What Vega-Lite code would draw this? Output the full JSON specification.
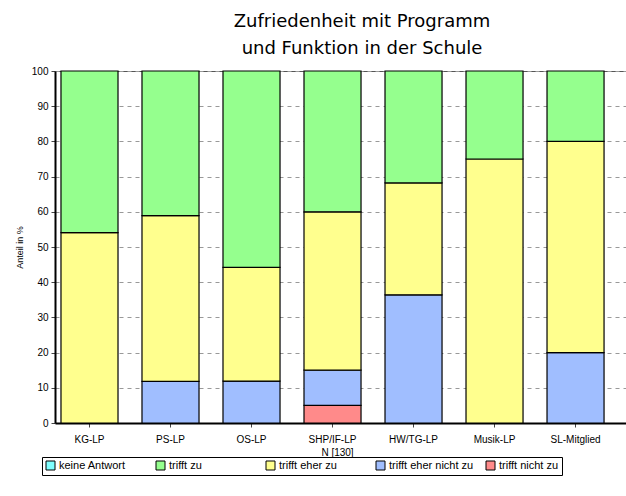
{
  "$schema": "https://vega.github.io/schema/vega-lite/v6.json",
  "width": 580,
  "height": 352,
  "autosize": {"type": "none"},
  "padding": {"left": 55, "top": 71, "right": 0, "bottom": 73},
  "background": "white",
  "title": {
    "text": ["Zufriedenheit mit Programm", "und Funktion in der Schule"],
    "font": "DejaVu Sans",
    "fontSize": 18,
    "fontWeight": "normal",
    "lineHeight": 27,
    "offset": 8,
    "dx": 17,
    "anchor": "middle",
    "color": "black"
  },
  "data": {
    "values": [
      {"gruppe": "KG-LP", "antwort": "trifft eher zu", "o": 3, "wert": 54.1},
      {"gruppe": "KG-LP", "antwort": "trifft zu", "o": 4, "wert": 45.9},
      {"gruppe": "PS-LP", "antwort": "trifft eher nicht zu", "o": 2, "wert": 11.8},
      {"gruppe": "PS-LP", "antwort": "trifft eher zu", "o": 3, "wert": 47.1},
      {"gruppe": "PS-LP", "antwort": "trifft zu", "o": 4, "wert": 41.1},
      {"gruppe": "OS-LP", "antwort": "trifft eher nicht zu", "o": 2, "wert": 11.9},
      {"gruppe": "OS-LP", "antwort": "trifft eher zu", "o": 3, "wert": 32.3},
      {"gruppe": "OS-LP", "antwort": "trifft zu", "o": 4, "wert": 55.8},
      {"gruppe": "SHP/IF-LP", "antwort": "trifft nicht zu", "o": 1, "wert": 5},
      {"gruppe": "SHP/IF-LP", "antwort": "trifft eher nicht zu", "o": 2, "wert": 10},
      {"gruppe": "SHP/IF-LP", "antwort": "trifft eher zu", "o": 3, "wert": 45},
      {"gruppe": "SHP/IF-LP", "antwort": "trifft zu", "o": 4, "wert": 40},
      {"gruppe": "HW/TG-LP", "antwort": "trifft eher nicht zu", "o": 2, "wert": 36.4},
      {"gruppe": "HW/TG-LP", "antwort": "trifft eher zu", "o": 3, "wert": 31.8},
      {"gruppe": "HW/TG-LP", "antwort": "trifft zu", "o": 4, "wert": 31.8},
      {"gruppe": "Musik-LP", "antwort": "trifft eher zu", "o": 3, "wert": 75},
      {"gruppe": "Musik-LP", "antwort": "trifft zu", "o": 4, "wert": 25},
      {"gruppe": "SL-Mitglied", "antwort": "trifft eher nicht zu", "o": 2, "wert": 20},
      {"gruppe": "SL-Mitglied", "antwort": "trifft eher zu", "o": 3, "wert": 60},
      {"gruppe": "SL-Mitglied", "antwort": "trifft zu", "o": 4, "wert": 20}
    ]
  },
  "mark": {"type": "bar", "stroke": "black", "strokeWidth": 1.2},
  "encoding": {
    "x": {
      "field": "gruppe",
      "type": "nominal",
      "sort": ["KG-LP", "PS-LP", "OS-LP", "SHP/IF-LP", "HW/TG-LP", "Musik-LP", "SL-Mitglied"],
      "scale": {"paddingInner": 0.296, "paddingOuter": 0.228, "align": 0.162},
      "axis": {
        "title": "N [130]",
        "labelAngle": 0,
        "labelFont": "Liberation Sans",
        "labelFontSize": 10,
        "labelColor": "black",
        "labelPadding": 7,
        "titleFont": "Liberation Sans",
        "titleFontSize": 10,
        "titleFontWeight": "normal",
        "titleColor": "black",
        "titlePadding": 3,
        "titleX": 282,
        "domainColor": "black",
        "domainWidth": 2,
        "tickColor": "#444",
        "tickSize": 4,
        "grid": false
      }
    },
    "y": {
      "field": "wert",
      "type": "quantitative",
      "stack": "zero",
      "scale": {"domain": [0, 100], "nice": false},
      "axis": {
        "title": "Anteil in %",
        "values": [0, 10, 20, 30, 40, 50, 60, 70, 80, 90, 100],
        "labelOverlap": false,
        "labelFont": "Liberation Sans",
        "labelFontSize": 10,
        "labelColor": "black",
        "labelPadding": 3,
        "titleFont": "Liberation Sans",
        "titleFontSize": 9,
        "titleFontWeight": "normal",
        "titleColor": "black",
        "titlePadding": 7,
        "domainColor": "black",
        "domainWidth": 2,
        "tickColor": "#444",
        "tickSize": 4,
        "grid": true,
        "gridColor": "#999999",
        "gridDash": [4, 4],
        "gridWidth": 1
      }
    },
    "color": {
      "field": "antwort",
      "type": "nominal",
      "scale": {
        "domain": ["keine Antwort", "trifft zu", "trifft eher zu", "trifft eher nicht zu", "trifft nicht zu"],
        "range": ["#80FFFF", "#95FF8E", "#FFFF8E", "#A0BEFF", "#FF8A8A"]
      },
      "legend": {
        "title": null,
        "orient": "none",
        "legendX": -13,
        "legendY": 386,
        "direction": "horizontal",
        "columns": 5,
        "gridAlign": "all",
        "columnPadding": 10,
        "strokeColor": "black",
        "padding": 3,
        "symbolType": "square",
        "symbolSize": 81,
        "symbolStrokeColor": "black",
        "symbolStrokeWidth": 1,
        "symbolOpacity": 1,
        "labelFont": "Liberation Sans",
        "labelFontSize": 11,
        "labelColor": "black",
        "labelOffset": 3,
        "labelLimit": 200
      }
    },
    "order": {"field": "o", "type": "quantitative", "sort": "ascending"}
  },
  "config": {
    "view": {"stroke": "#555555", "strokeWidth": 1},
    "bar": {"opacity": 1}
  }
}
